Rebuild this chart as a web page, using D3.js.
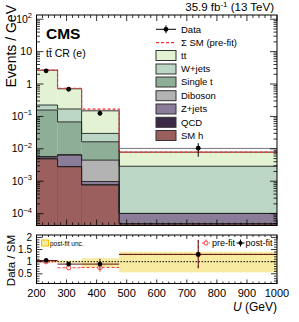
<!DOCTYPE html>
<html><head><meta charset="utf-8">
<script src="https://cdn.jsdelivr.net/npm/d3@7"></script>
<style>body{margin:0;background:#fff}svg{display:block;font-family:"Liberation Sans",Arial,Helvetica,sans-serif}</style>
</head><body><svg id="c" width="299" height="322"></svg>
<script>
// ---------------- data ----------------
const binEdges = [200, 270, 350, 475, 1000];
// stacked processes, bottom to top (Events / GeV)
const smh     = [0.0049, 0.0028, 0.00077, 0.000048];
const qcd     = [0.0001, 0.00005, 0.00001, 0.000001];
const zjets   = [0.0006, 0.0035, 0.0002, 0.000052];
const diboson = [0.0002, 0.0003, 0.0035, 0];
const singlet = [0.152, 0.061, 0.012, 0];
const wjets   = [0.067, 0.102, 0.0134, 0.0028];
const ttbar   = [2.43, 0.548, 0.12, 0.005];
const processNames = ["SM h", "QCD", "Z+jets", "Diboson", "Single t", "W+jets", "tt"];
const processColors = ["#9b5f5d", "#3b2a46", "#8b7d99", "#b3b3b3", "#8fae98", "#bcd6c5", "#e2f2d3"];
const prefitTotal  = [2.68, 0.74, 0.168, 0.0079];
const postfitTotal = [2.655, 0.718, 0.15, 0.0103];
// data
const dataX     = [232, 307, 411, 738];
const dataY     = [2.55, 0.69, 0.125, 0.0105];
const dataErrLo = [0.10, 0.05, 0.02, 0.0048];
const dataErrHi = [0.10, 0.05, 0.025, 0.0045];
// ratio panel
const postRatio   = [1.05, 0.90, 0.90, 1.30];
const postRatioLo = [0.04, 0.08, 0.20, 0.57];
const postRatioHi = [0.04, 0.08, 0.22, 0.60];
const preRatio    = [1.00, 0.75, 0.76, 1.30];
const preRatioLo  = [0.04, 0.07, 0.17, 0.57];
const preRatioHi  = [0.04, 0.07, 0.18, 0.60];
const uncLo = [0.97, 0.95, 0.78, 0.56];
const uncHi = [1.03, 1.05, 1.14, 1.41];
// tick labels
const xTickValues = [200, 300, 400, 500, 600, 700, 800, 900, 1000];
const yTickValues = [1e-4, 1e-3, 1e-2, 1e-1, 1, 10, 100];
const yTickBase   = ["10", "10", "10", "10", "1", "10", "10"];
const yTickExp    = ["\u22124", "\u22123", "\u22122", "\u22121", "", "", "2"];
const rTickValues = [0.5, 1, 1.5, 2];
const rTickLabels = ["0.5", "1", "1.5", "2"];

// ---------------- layout ----------------
const svg = d3.select("#c");
const L = 36.5, R = 277, T = 15, B = 225.5, RT = 235, RB = 283.5;
const x = d3.scaleLinear().domain([200, 1000]).range([L, R]);
const y = d3.scaleLog().domain([4.3e-5, 135]).range([B, T]);
const yr = d3.scaleLinear().domain([0.1, 2.1]).range([RB, RT]);

const defs = svg.append("defs");
defs.append("clipPath").attr("id", "cm").append("rect").attr("x", L).attr("y", T).attr("width", R - L).attr("height", B - T);
defs.append("clipPath").attr("id", "cr").append("rect").attr("x", L).attr("y", RT).attr("width", R - L).attr("height", RB - RT);

const main = svg.append("g").attr("clip-path", "url(#cm)");
const comps = [smh, qcd, zjets, diboson, singlet, wjets, ttbar];
const nb = binEdges.length - 1;
const cum = [];
let run = new Array(nb).fill(0);
comps.forEach(c => { run = run.map((v, i) => v + c[i]); cum.push(run.slice()); });

function stepPath(vals, yscale) {
  let d = "";
  for (let i = 0; i < nb; i++) {
    const yy = yscale(Math.max(vals[i], 1e-9));
    d += (i === 0 ? "M" : "L") + x(binEdges[i]) + "," + yy + "L" + x(binEdges[i + 1]) + "," + yy;
  }
  return d;
}
for (let k = comps.length - 1; k >= 0; k--) {
  for (let i = 0; i < nb; i++) {
    const top = cum[k][i];
    if (top <= 0) continue;
    main.append("rect").attr("x", x(binEdges[i])).attr("width", x(binEdges[i + 1]) - x(binEdges[i]))
      .attr("y", y(top)).attr("height", Math.max(0, B + 5 - y(top))).attr("fill", processColors[k]);
  }
}
for (let k = comps.length - 1; k >= 0; k--) {
  main.append("path").attr("d", stepPath(cum[k], y)).attr("fill", "none").attr("stroke", "#222").attr("stroke-width", 0.9);
}
main.append("path").attr("d", stepPath(postfitTotal, y)).attr("fill", "none").attr("stroke", "#777").attr("stroke-width", 1);
main.append("path").attr("d", stepPath(prefitTotal, y)).attr("fill", "none").attr("stroke", "#ff2a2a").attr("stroke-width", 1.2).attr("stroke-dasharray", "3,2");

dataX.forEach((dx, i) => {
  main.append("line").attr("x1", x(dx)).attr("x2", x(dx)).attr("y1", y(dataY[i] - dataErrLo[i])).attr("y2", y(dataY[i] + dataErrHi[i])).attr("stroke", "#000").attr("stroke-width", 1);
  main.append("circle").attr("cx", x(dx)).attr("cy", y(dataY[i])).attr("r", 2.4).attr("fill", "#000");
});

// ---------------- ratio panel ----------------
const rg = svg.append("g").attr("clip-path", "url(#cr)");
for (let i = 0; i < nb; i++) {
  rg.append("rect").attr("x", x(binEdges[i])).attr("width", x(binEdges[i + 1]) - x(binEdges[i]))
    .attr("y", yr(uncHi[i])).attr("height", yr(uncLo[i]) - yr(uncHi[i])).attr("fill", "#f6eba0");
}
rg.append("line").attr("x1", L).attr("x2", R).attr("y1", yr(1)).attr("y2", yr(1)).attr("stroke", "#000").attr("stroke-width", 1).attr("stroke-dasharray", "1.5,1.5");
for (let i = 0; i < nb; i++) {
  const cx = x(dataX[i]);
  rg.append("line").attr("x1", x(binEdges[i])).attr("x2", x(binEdges[i + 1])).attr("y1", yr(preRatio[i])).attr("y2", yr(preRatio[i])).attr("stroke", "#ff3b3b").attr("stroke-width", 1).attr("stroke-dasharray", "3,2");
  rg.append("line").attr("x1", cx).attr("x2", cx).attr("y1", yr(preRatio[i] - preRatioLo[i])).attr("y2", yr(preRatio[i] + preRatioHi[i])).attr("stroke", "#ff3b3b").attr("stroke-width", 1).attr("stroke-dasharray", "3,2");
  rg.append("circle").attr("cx", cx).attr("cy", yr(preRatio[i])).attr("r", 2.2).attr("fill", "#fff").attr("stroke", "#ff3b3b").attr("stroke-width", 1);
}
for (let i = 0; i < nb; i++) {
  const cx = x(dataX[i]);
  rg.append("line").attr("x1", x(binEdges[i])).attr("x2", x(binEdges[i + 1])).attr("y1", yr(postRatio[i])).attr("y2", yr(postRatio[i])).attr("stroke", "#5a1414").attr("stroke-width", 1);
  rg.append("line").attr("x1", cx).attr("x2", cx).attr("y1", yr(postRatio[i] - postRatioLo[i])).attr("y2", yr(postRatio[i] + postRatioHi[i])).attr("stroke", "#5a1414").attr("stroke-width", 1);
  rg.append("circle").attr("cx", cx).attr("cy", yr(postRatio[i])).attr("r", 2.4).attr("fill", "#000");
}

// ---------------- frames & ticks ----------------
function frame(t, b) {
  svg.append("rect").attr("x", L).attr("y", t).attr("width", R - L).attr("height", b - t).attr("fill", "none").attr("stroke", "#000").attr("stroke-width", 1);
}
frame(T, B); frame(RT, RB);
const tk = svg.append("g").attr("stroke", "#000").attr("stroke-width", 0.8);
function xTicks(t, b, maj, mn) {
  for (let v = 200; v <= 1000; v += 20) {
    const len = v % 100 === 0 ? maj : mn;
    tk.append("line").attr("x1", x(v)).attr("x2", x(v)).attr("y1", b).attr("y2", b - len);
    tk.append("line").attr("x1", x(v)).attr("x2", x(v)).attr("y1", t).attr("y2", t + len);
  }
}
xTicks(T, B, 6, 3);
xTicks(RT, RB, 4, 2);
for (let e = -5; e <= 2; e++) {
  for (let m = 1; m <= 9; m++) {
    const v = m * Math.pow(10, e);
    if (v < y.domain()[0] || v > y.domain()[1]) continue;
    const len = m === 1 ? 7 : 3.5;
    tk.append("line").attr("x1", L).attr("x2", L + len).attr("y1", y(v)).attr("y2", y(v));
    tk.append("line").attr("x1", R).attr("x2", R - len).attr("y1", y(v)).attr("y2", y(v));
  }
}
for (let k = 2; k <= 20; k++) {
  const v = k / 10;
  const len = k % 5 === 0 ? 6 : 3;
  tk.append("line").attr("x1", L).attr("x2", L + len).attr("y1", yr(v)).attr("y2", yr(v));
  tk.append("line").attr("x1", R).attr("x2", R - len).attr("y1", yr(v)).attr("y2", yr(v));
}

const tl = svg.append("g").attr("fill", "#000");
xTickValues.forEach(v => tl.append("text").attr("x", x(v)).attr("y", 297).attr("text-anchor", "middle").attr("font-size", 11).text(v));
yTickValues.forEach((v, i) => {
  const t = tl.append("text").attr("x", 32).attr("y", y(v) + 3.5).attr("text-anchor", "end").attr("font-size", 10.5);
  t.append("tspan").text(yTickBase[i]);
  if (yTickExp[i]) t.append("tspan").attr("dy", -4.5).attr("font-size", 7.5).text(yTickExp[i]);
});
rTickValues.forEach((v, i) => tl.append("text").attr("x", 32).attr("y", yr(v) + 3.5).attr("text-anchor", "end").attr("font-size", 10).text(rTickLabels[i]));

const xt = svg.append("text").attr("x", R).attr("y", 311).attr("text-anchor", "end").attr("font-size", 12);
xt.append("tspan").attr("font-style", "italic").text("U");
xt.append("tspan").text(" (GeV)");
svg.append("text").attr("transform", "translate(16,5) rotate(-90)").attr("text-anchor", "end").attr("font-size", 14).text("Events / GeV");
svg.append("text").attr("transform", "translate(15,235) rotate(-90)").attr("text-anchor", "end").attr("font-size", 11.5).text("Data / SM");

svg.append("text").attr("x", 274).attr("y", 11).attr("text-anchor", "end").attr("font-size", 11.5)
  .call(t => { t.append("tspan").text("35.9 fb"); t.append("tspan").attr("dy", -4).attr("font-size", 8).text("-1"); t.append("tspan").attr("dy", 4).text(" (13 TeV)"); });
svg.append("text").attr("x", 46).attr("y", 38.5).attr("font-size", 15.5).attr("font-weight", "bold").text("CMS");
svg.append("text").attr("x", 46).attr("y", 57).attr("font-size", 10.5).text("tt\u0304 CR (e)");

const lg = svg.append("g");
const lx = 156, lw = 20, tx = 181;
const rows = [29.3, 42.7, 55.5, 69, 82, 95.7, 109, 122.3, 135.5];
lg.append("line").attr("x1", lx).attr("x2", lx + lw).attr("y1", rows[0]).attr("y2", rows[0]).attr("stroke", "#000");
lg.append("line").attr("x1", lx + lw / 2).attr("x2", lx + lw / 2).attr("y1", rows[0] - 4).attr("y2", rows[0] + 4).attr("stroke", "#000");
lg.append("circle").attr("cx", lx + lw / 2).attr("cy", rows[0]).attr("r", 2.4).attr("fill", "#000");
lg.append("text").attr("x", tx).attr("y", rows[0] + 3.4).attr("font-size", 9.5).text("Data");
lg.append("line").attr("x1", lx).attr("x2", lx + lw).attr("y1", rows[1]).attr("y2", rows[1]).attr("stroke", "#ff2a2a").attr("stroke-width", 1.2).attr("stroke-dasharray", "3,2");
lg.append("text").attr("x", tx).attr("y", rows[1] + 3.4).attr("font-size", 9.5).text("\u03A3 SM (pre-fit)");
const legOrder = [6, 5, 4, 3, 2, 1, 0];
legOrder.forEach((k, j) => {
  const ry = rows[j + 2];
  lg.append("rect").attr("x", lx).attr("y", ry - 5).attr("width", lw).attr("height", 10).attr("fill", processColors[k]).attr("stroke", "#333").attr("stroke-width", 1);
  lg.append("text").attr("x", tx).attr("y", ry + 3.4).attr("font-size", 9.5).text(processNames[k]);
});

svg.append("rect").attr("x", 41.5).attr("y", 240).attr("width", 7).attr("height", 6).attr("fill", "#f6eba0").attr("stroke", "#f2c200").attr("stroke-width", 1);
svg.append("text").attr("x", 50).attr("y", 245.5).attr("font-size", 6.5).text("post-fit unc.");
const py = 243;
svg.append("line").attr("x1", 202).attr("x2", 210).attr("y1", py).attr("y2", py).attr("stroke", "#ff3b3b").attr("stroke-dasharray", "2,1.5");
svg.append("line").attr("x1", 206).attr("x2", 206).attr("y1", py - 3.5).attr("y2", py + 3.5).attr("stroke", "#ff3b3b").attr("stroke-dasharray", "2,1.5");
svg.append("circle").attr("cx", 206).attr("cy", py).attr("r", 2).attr("fill", "#fff").attr("stroke", "#ff3b3b");
svg.append("text").attr("x", 212).attr("y", py + 3.2).attr("font-size", 9).text("pre-fit");
svg.append("line").attr("x1", 236.5).attr("x2", 244.5).attr("y1", py).attr("y2", py).attr("stroke", "#000");
svg.append("line").attr("x1", 240.5).attr("x2", 240.5).attr("y1", py - 3.5).attr("y2", py + 3.5).attr("stroke", "#000");
svg.append("circle").attr("cx", 240.5).attr("cy", py).attr("r", 2).attr("fill", "#000");
svg.append("text").attr("x", 245.5).attr("y", py + 3.2).attr("font-size", 9).text("post-fit");
</script></body></html>
